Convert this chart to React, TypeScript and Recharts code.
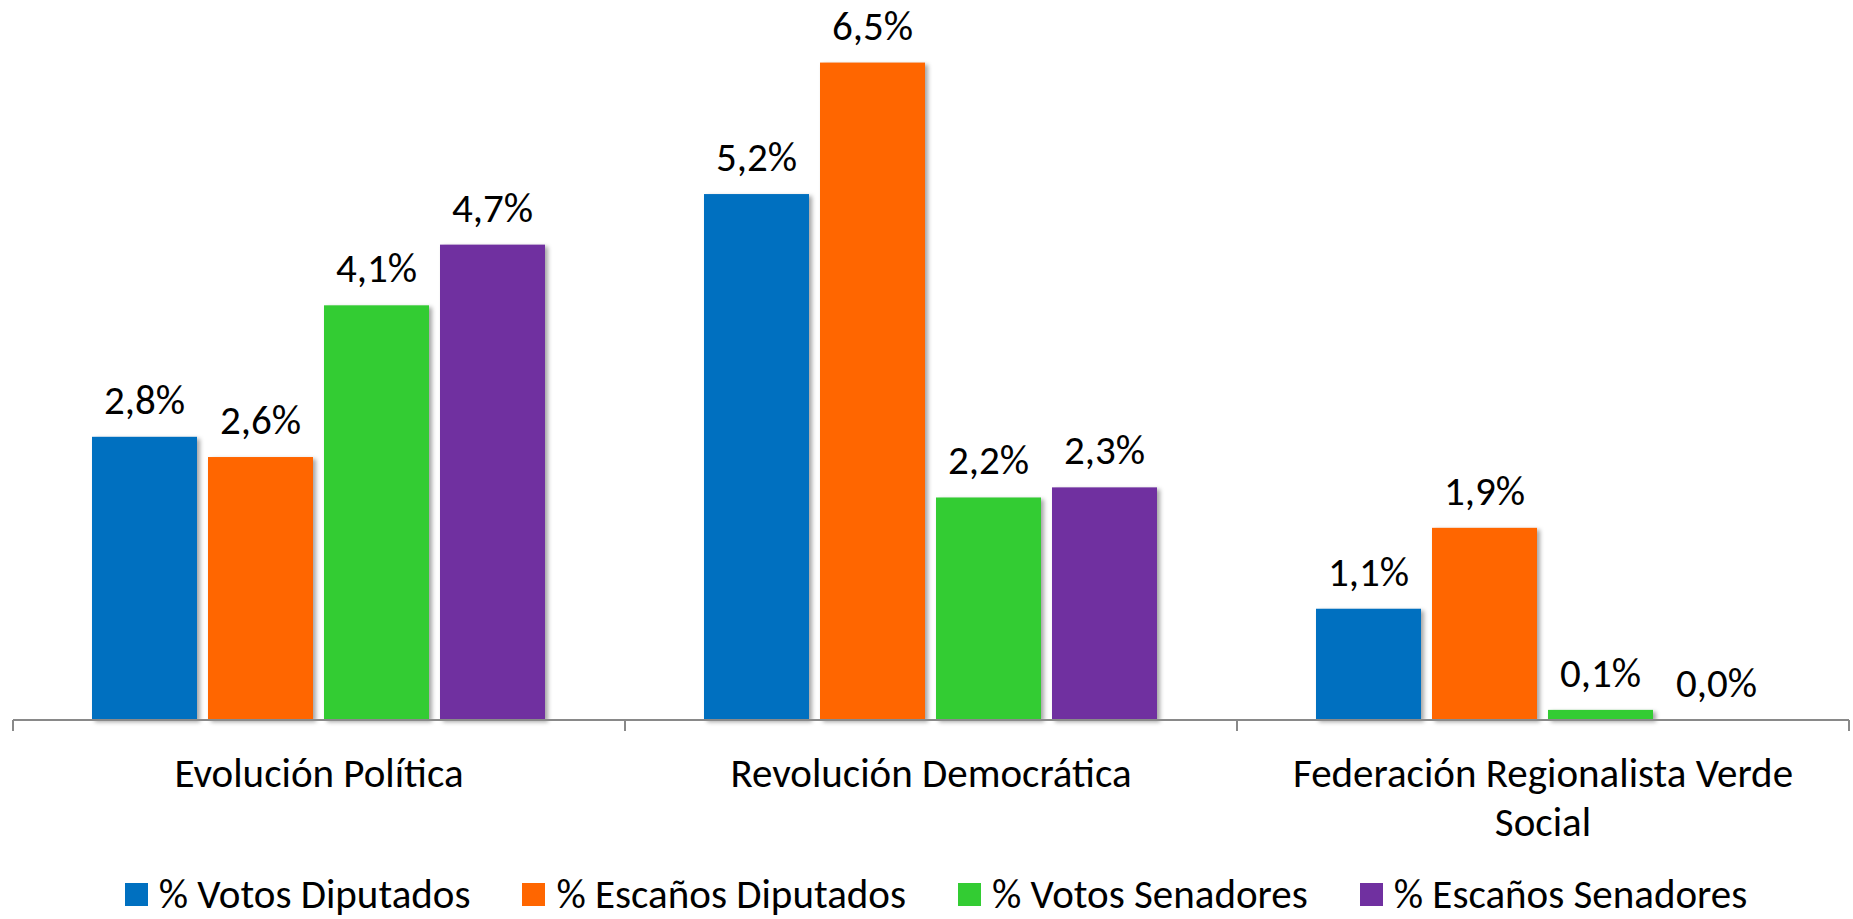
import React from 'react';
import { BarChart, Bar, XAxis, YAxis, Legend, LabelList } from 'recharts';

const categories = ['Evolución Política', 'Revolución Democrática', 'Federación Regionalista Verde Social'];
const votosDiputados = [2.8, 5.2, 1.1];
const escanosDiputados = [2.6, 6.5, 1.9];
const votosSenadores = [4.1, 2.2, 0.1];
const escanosSenadores = [4.7, 2.3, 0.0];

const seriesList = [
  { key: 'vd', name: '% Votos Diputados', color: '#0070C0', values: votosDiputados },
  { key: 'ed', name: '% Escaños Diputados', color: '#FF6600', values: escanosDiputados },
  { key: 'vs', name: '% Votos Senadores', color: '#33CC33', values: votosSenadores },
  { key: 'es', name: '% Escaños Senadores', color: '#7030A0', values: escanosSenadores },
];

const data = categories.map((name, i) => {
  const row: any = { name };
  seriesList.forEach((s) => { row[s.key] = s.values[i]; });
  return row;
});

const FONT = 'Carlito, Lato, "Open Sans", sans-serif';
const FONT_SIZE = 41;
const AXIS_GRAY = '#898989';

const fmt = (v: any) => `${Number(v).toFixed(1).replace('.', ',')}%`;

// greedy word wrap measured on a canvas
const wrapWords = (text: string, maxWidth: number) => {
  const ctx = document.createElement('canvas').getContext('2d');
  if (!ctx) return [text];
  ctx.font = `${FONT_SIZE}px ${FONT}`;
  const lines: string[] = [];
  let line = '';
  text.split(' ').forEach((w) => {
    const test = line ? `${line} ${w}` : w;
    if (line && ctx.measureText(test).width > maxWidth) {
      lines.push(line);
      line = w;
    } else {
      line = test;
    }
  });
  if (line) lines.push(line);
  return lines;
};

const ShadowBar = (props: any) => {
  const { x, y, width, height, fill } = props;
  if (!height || height <= 0) return null;
  return (
    <rect
      x={x}
      y={y}
      width={width}
      height={height}
      fill={fill}
      style={{ filter: 'drop-shadow(3px 2px 2px rgba(0,0,0,0.35))' }}
    />
  );
};

const CategoryTick = (props: any) => {
  const { x, y, payload, index, visibleTicksCount } = props;
  const half = payload.offset || 0;
  const isLast = index === visibleTicksCount - 1;
  const lines = wrapWords(String(payload.value), half * 1.75);
  return (
    <g>
      <line x1={x - half} x2={x - half} y1={y} y2={y + 11} stroke={AXIS_GRAY} strokeWidth={2} />
      {isLast && <line x1={x + half} x2={x + half} y1={y} y2={y + 11} stroke={AXIS_GRAY} strokeWidth={2} />}
      <text x={x} y={y + 67} textAnchor="middle" fontSize={FONT_SIZE} fontFamily={FONT} fill="#000">
        {lines.map((l, i) => (
          <tspan key={i} x={x} dy={i === 0 ? 0 : 49}>{l}</tspan>
        ))}
      </text>
    </g>
  );
};

const renderLegend = () => (
  <div
    style={{
      display: 'flex',
      justifyContent: 'center',
      alignItems: 'center',
      height: 50,
      fontFamily: FONT,
      fontSize: FONT_SIZE,
      color: '#000',
      paddingLeft: 10,
    }}
  >
    {seriesList.map((s, i) => (
      <div key={s.key} style={{ display: 'flex', alignItems: 'center', marginLeft: i === 0 ? 0 : 52 }}>
        <span style={{ display: 'inline-block', width: 23, height: 23, background: s.color, marginRight: 11 }} />
        <span style={{ lineHeight: '50px', whiteSpace: 'nowrap' }}>{s.name}</span>
      </div>
    ))}
  </div>
);

export default function App() {
  return (
    <div style={{ position: 'absolute', left: 0, top: 0, width: 1853, height: 919, overflow: 'hidden', background: '#fff' }}>
      <BarChart
        width={1853}
        height={919}
        data={data}
        margin={{ top: 12, right: 4, bottom: 0, left: 13 }}
        barCategoryGap={79}
        barGap={11}
      >
        <XAxis
          dataKey="name"
          height={149}
          interval={0}
          tickLine={false}
          tickSize={0}
          tickMargin={0}
          axisLine={{ stroke: AXIS_GRAY, strokeWidth: 2 }}
          tick={<CategoryTick />}
        />
        <YAxis hide domain={[0, 7]} />
        <Legend verticalAlign="bottom" content={renderLegend} />
        {seriesList.map((s) => (
          <Bar key={s.key} dataKey={s.key} name={s.name} fill={s.color} isAnimationActive={false} shape={<ShadowBar />}>
            <LabelList
              dataKey={s.key}
              position="top"
              offset={23}
              formatter={fmt}
              style={{ fontSize: FONT_SIZE, fontFamily: FONT, fill: '#000' }}
            />
          </Bar>
        ))}
      </BarChart>
    </div>
  );
}
